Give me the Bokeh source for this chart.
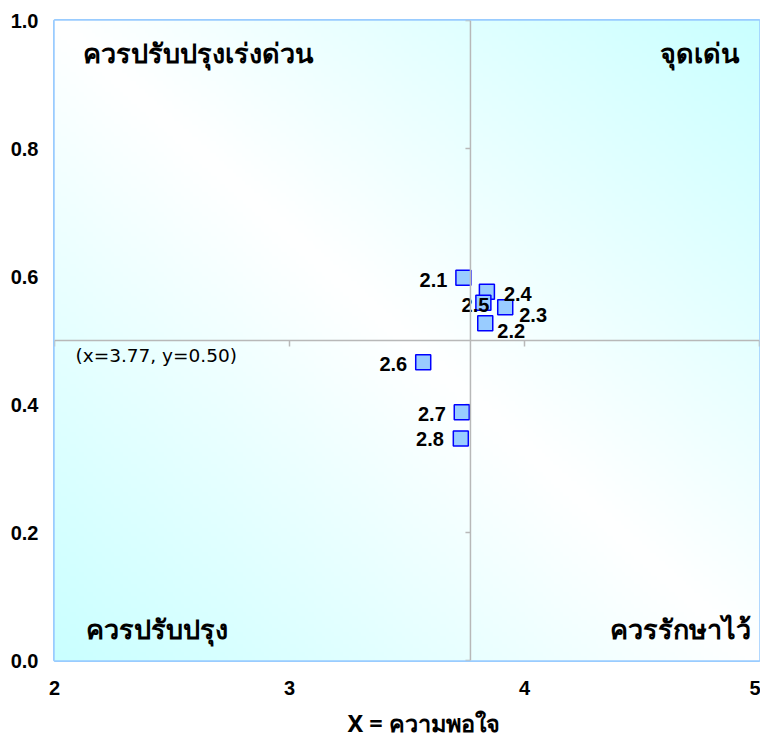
import numpy as np
from bokeh.plotting import figure
from bokeh.models import ColumnDataSource, Span, Label, Title, FixedTicker, NumeralTickFormatter
from bokeh.embed import file_html
from bokeh.resources import INLINE
from bokeh.core.properties import value

# ---- data ----
labels = ["2.1", "2.2", "2.3", "2.4", "2.5", "2.6", "2.7", "2.8"]
x_vals = [3.74, 3.833, 3.918, 3.84, 3.825, 3.569, 3.733, 3.729]
y_vals = [0.598, 0.527, 0.552, 0.576, 0.559, 0.466, 0.388, 0.347]

x_cross = 3.77
y_cross = 0.50

x_ticks = [2, 3, 4, 5]
y_ticks = [0.0, 0.2, 0.4, 0.6, 0.8, 1.0]

quadrant_texts = ["ควรปรับปรุงเร่งด่วน", "จุดเด่น", "ควรปรับปรุง", "ควรรักษาไว้"]
x_title = "X = ความพอใจ"

# ---- label placement (style only) ----
lab_align = ["right", "left", "left", "left", "right", "right", "right", "right"]
lab_dx = [-16, 12, 14, 17, 6, -16, -16, -17]
lab_dy = [2, 8, 8, 2, 2, 2, 2, 1]

X0, X1, Y0, Y1 = 2, 5, 0, 1
FW, FH = 705, 640  # frame size in px

p = figure(width=760, height=747, x_range=(X0, X1), y_range=(Y0, Y1),
           output_backend="svg", toolbar_location=None,
           min_border_left=54, min_border_right=1, min_border_top=20, min_border_bottom=87)

p.background_fill_color = "white"
p.border_fill_color = "white"
p.outline_line_color = "#99ccff"
p.outline_line_width = 3
p.xgrid.visible = False
p.ygrid.visible = False

# ---- gradient background (white along main diagonal, cyan at TR/BL corners) ----
ny, nx = 160, 240
u = np.linspace(0, 1, nx)[None, :]
v = np.linspace(0, 1, ny)[:, None]
t = np.abs(u + v - 1)
img = np.empty((ny, nx), dtype=np.uint32)
view = img.view(dtype=np.uint8).reshape((ny, nx, 4))
view[:, :, 0] = (255 - 53 * t).astype(np.uint8)
view[:, :, 1] = 255
view[:, :, 2] = 255
view[:, :, 3] = 255
p.image_rgba(image=[img], x=X0, y=Y0, dw=X1 - X0, dh=Y1 - Y0)

# ---- crossing lines ----
line_col = "#b8b8b8"
p.add_layout(Span(location=x_cross, dimension="height", line_color=line_col, line_width=1.5))
p.add_layout(Span(location=y_cross, dimension="width", line_color=line_col, line_width=1.5))

# tick marks on crossing lines
tx = (X1 - X0) / FW
ty = (Y1 - Y0) / FH
p.segment(x0=x_ticks, y0=[y_cross] * len(x_ticks), x1=x_ticks,
          y1=[y_cross - 6 * ty] * len(x_ticks), line_color=line_col, line_width=1.5)
p.segment(x0=[x_cross] * len(y_ticks), y0=y_ticks, x1=[x_cross - 5 * tx] * len(y_ticks),
          y1=y_ticks, line_color=line_col, line_width=1.5)

# ---- points ----
src = ColumnDataSource(dict(x=x_vals, y=y_vals, label=labels,
                            align=lab_align, dx=lab_dx, dy=lab_dy))
p.scatter("x", "y", source=src, marker="square", size=15,
          fill_color="#99ccff", line_color="#0000ff", line_width=1.5)
p.text("x", "y", text="label", source=src, text_align="align", x_offset="dx", y_offset="dy",
       text_baseline="middle", text_font=value("Liberation Sans"), text_font_style="bold",
       text_font_size="20px", text_color="black")

# ---- quadrant labels ----
qfont = dict(text_font="Noto Sans", text_font_style="bold", text_font_size="27px",
             text_color="black", text_baseline="middle")
p.add_layout(Label(x=X0, y=Y1, x_offset=28, y_offset=-32, text=quadrant_texts[0],
                   text_align="left", **qfont))
p.add_layout(Label(x=X1, y=Y1, x_offset=-21, y_offset=-32, text=quadrant_texts[1],
                   text_align="right", **qfont))
p.add_layout(Label(x=X0, y=Y0, x_offset=31, y_offset=32, text=quadrant_texts[2],
                   text_align="left", **qfont))
p.add_layout(Label(x=X1, y=Y0, x_offset=-9, y_offset=32, text=quadrant_texts[3],
                   text_align="right", **qfont))

# crossing annotation
p.add_layout(Label(x=X0, y=y_cross, x_offset=21, y_offset=-4,
                   text=f"(x={x_cross:.2f}, y={y_cross:.2f})",
                   text_align="left", text_baseline="top", text_font="DejaVu Sans",
                   text_font_size="18.5px", text_color="black"))

# ---- axes ----
for ax in (p.xaxis, p.yaxis):
    ax.axis_line_color = None
    ax.major_tick_line_color = None
    ax.minor_tick_line_color = None
    ax.major_tick_out = 0
    ax.major_tick_in = 0
    ax.major_label_text_font = "Liberation Sans"
    ax.major_label_text_font_style = "bold"
    ax.major_label_text_font_size = "20px"
    ax.major_label_text_color = "black"
p.xaxis.ticker = FixedTicker(ticks=x_ticks)
p.yaxis.ticker = FixedTicker(ticks=y_ticks)
p.yaxis.formatter = NumeralTickFormatter(format="0.0")
p.xaxis.major_label_standoff = 20
p.yaxis.major_label_standoff = 16

# x title (below the axis)
p.add_layout(Title(text=x_title, align="left", offset=293, vertical_align="bottom",
                   standoff=15, text_font="Noto Sans", text_font_style="bold",
                   text_font_size="23.5px", text_color="black"), "below")

open("out.html", "w").write(file_html(p, INLINE))
